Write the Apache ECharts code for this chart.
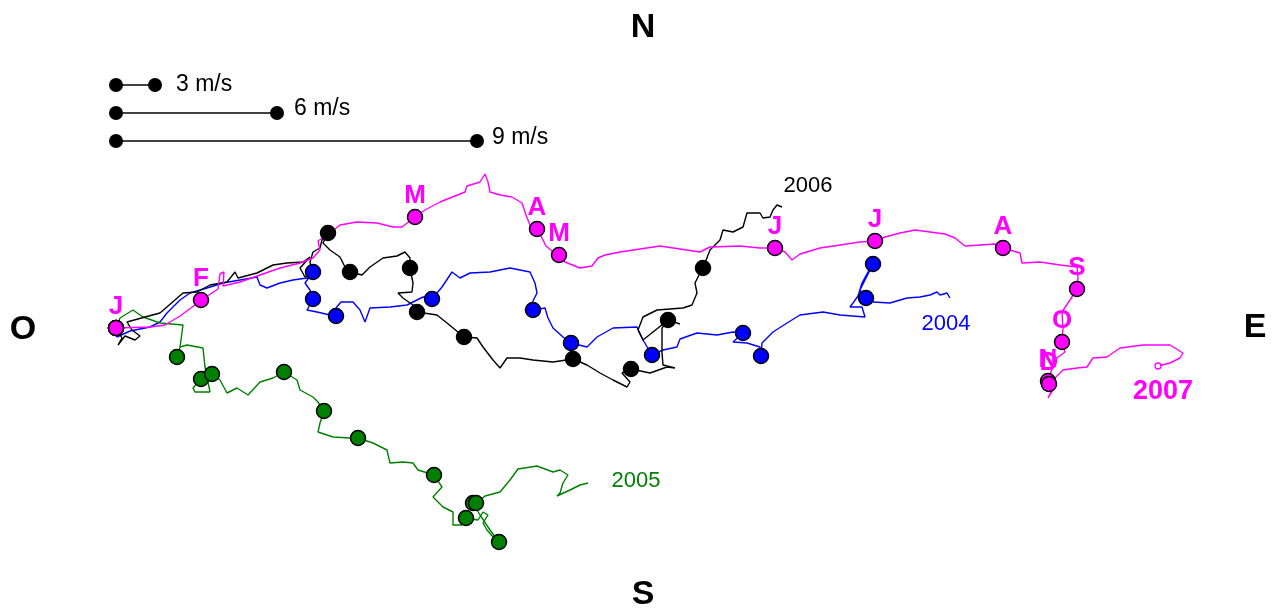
<!DOCTYPE html>
<html>
<head>
<meta charset="utf-8">
<title>Trajectoires 2004-2007</title>
<script src="https://cdn.jsdelivr.net/npm/echarts@6/dist/echarts.min.js"></script>
<style>
  html, body { margin: 0; padding: 0; background: #ffffff; }
  #chart { width: 1278px; height: 608px; }
</style>
</head>
<body>
<div id="chart"></div>
<script>
// Progressive displacement (km east, km north) from the common release point.
const monthLetters = ['J', 'F', 'M', 'A', 'M', 'J', 'J', 'A', 'S', 'O', 'N', 'D'];

const track2004 = [
  [0,0],[1,-9],[14,-3],[34,1],[44,6],[51,15],[64,28],[74,35],[91,40],[107,45],[124,48],[141,51],
  [144,43],[151,40],[164,45],[177,48],[191,50],[197,56],[189,45],[194,38],[197,29],[191,18],[201,16],
  [214,13],[220,12],[220,20],[225,26],[237,26],[244,18],[249,6],[254,20],[274,21],[291,23],[307,31],
  [316,29],[326,41],[336,56],[344,50],[354,55],[374,56],[394,60],[414,56],[419,45],[421,35],[416,25],
  [417,18],[429,20],[432,10],[437,0],[447,-9],[455,-15],[471,-19],[481,-9],[497,0],[521,1],[527,-12],
  [536,-27],[547,-22],[561,-19],[564,-11],[581,-5],[601,-7],[617,-4],[627,-5],[617,-14],[631,-15],
  [644,-19],[645,-28],[646,-15],[657,-4],[671,5],[684,13],[707,16],[724,13],[749,11],[746,21],[734,21],
  [737,25],[742,32],[746,45],[752,56],[757,64],[744,38],[750,30],[757,26],[774,25],[791,30],[804,31],
  [814,33],[821,36],[824,33],[831,35],[834,30]
];
const fixes2004 = [
  [0,0],[197,56],[197,29],[220,12],[316,29],[417,18],[455,-15],[536,-27],[627,-5],[645,-28],[757,64],[750,30]
];

const track2005 = [
  [0,0],[4,10],[17,18],[27,11],[44,5],[67,3],[64,-19],[61,-29],[64,-19],[71,-17],[87,-20],[89,-39],
  [91,-49],[94,-64],[79,-64],[77,-60],[85,-51],[96,-46],[104,-52],[111,-65],[121,-60],[132,-67],
  [144,-54],[157,-50],[168,-44],[181,-52],[184,-62],[197,-69],[202,-74],[208,-83],[204,-95],[202,-104],
  [217,-109],[234,-110],[242,-110],[257,-115],[271,-122],[274,-135],[287,-134],[297,-135],[302,-142],
  [318,-147],[326,-159],[317,-169],[327,-179],[337,-184],[337,-197],[346,-197],[350,-190],[362,-192],
  [367,-184],[372,-187],[367,-195],[371,-202],[377,-209],[383,-214],[374,-202],[364,-187],[357,-175],
  [360,-175],[369,-168],[384,-164],[394,-152],[402,-141],[421,-138],[437,-144],[444,-142],[452,-147],
  [447,-155],[444,-165],[441,-168],[454,-162],[464,-157],[472,-155]
];
const fixes2005 = [
  [0,0],[61,-29],[85,-51],[96,-46],[168,-44],[208,-83],[242,-110],[318,-147],[350,-190],[383,-214],[357,-175],[360,-175]
];

const track2006 = [
  [0,0],[6,-10],[2,-17],[9,-8],[19,-12],[24,-8],[16,-2],[11,6],[29,11],[44,15],[67,35],[81,36],[94,43],
  [111,46],[119,56],[122,50],[141,55],[157,63],[171,65],[187,66],[194,71],[184,60],[189,51],[197,54],
  [194,66],[197,76],[204,80],[206,88],[212,95],[207,85],[214,78],[224,71],[229,61],[234,56],[246,53],
  [254,61],[267,70],[281,72],[289,76],[294,70],[294,60],[297,45],[296,36],[282,35],[287,30],[297,23],
  [301,16],[321,13],[331,5],[348,-9],[361,-10],[367,-19],[377,-32],[384,-40],[391,-30],[404,-30],
  [417,-32],[437,-34],[457,-31],[471,-37],[484,-45],[497,-52],[511,-59],[514,-54],[506,-45],[515,-41],
  [534,-45],[551,-39],[559,-40],[547,-37],[546,-25],[546,0],[552,8],[564,4],[552,8],[527,-12],[522,-2],
  [527,11],[541,18],[567,20],[576,23],[581,35],[579,45],[584,55],[587,60],[594,78],[604,88],[607,98],
  [617,96],[627,101],[631,115],[644,115],[647,110],[654,111],[657,118],[661,123],[666,121]
];
const fixes2006 = [
  [0,0],[212,95],[234,56],[294,60],[301,16],[348,-9],[457,-31],[515,-41],[552,8],[587,60]
];

const track2007 = [
  [0,0],[34,1],[49,3],[64,12],[79,23],[85,28],[96,35],[102,39],[104,54],[108,56],[107,42],[124,46],
  [144,53],[164,60],[184,65],[197,70],[204,78],[202,87],[214,95],[224,103],[241,106],[261,105],[277,101],
  [286,101],[299,111],[309,118],[324,126],[339,132],[349,136],[351,142],[364,146],[369,154],[372,146],
  [374,136],[384,133],[396,131],[406,125],[410,113],[414,103],[421,99],[426,90],[430,82],[436,77],
  [443,73],[449,66],[464,60],[476,62],[482,70],[489,73],[504,76],[524,79],[544,82],[564,79],[584,76],
  [594,81],[624,82],[644,80],[659,80],[669,76],[676,68],[684,74],[704,80],[724,83],[744,86],[759,87],
  [769,91],[784,95],[799,98],[814,96],[829,94],[839,90],[849,82],[864,83],[879,84],[887,80],[904,75],
  [906,65],[924,66],[944,63],[961,61],[962,51],[961,39],[954,28],[946,16],[947,0],[946,-14],[949,-24],
  [941,-30],[937,-38],[934,-47],[932,-53],[933,-56],[935,-64],[932,-70],[937,-62],[939,-50],[947,-42],
  [961,-40],[971,-39],[977,-30],[991,-29],[1004,-20],[1027,-17],[1054,-17],[1067,-25],[1064,-30],
  [1054,-35],[1042,-38]
];
const fixes2007 = [
  [0,0],[85,28],[299,111],[421,99],[443,73],[659,80],[759,87],[887,80],[961,39],[946,-14],[932,-53],[933,-56]
];

// Scale bars: speed label and drawn length (km)
const scaleSpeeds = [3, 6, 9];
const scaleLengths = [39, 161, 361];

const yearNames = ['2004', '2005', '2006', '2007'];
const yearLabelAt = [[830, 4], [520, -153], [692, 142], [1047, -64]];

const FONT = '"Liberation Sans", Arial, Helvetica, sans-serif';
const yearColors = ['#0000ff', '#008000', '#000000', '#ff00ff'];

const tracks = [track2004, track2005, track2006, track2007];
const fixes = [fixes2004, fixes2005, fixes2006, fixes2007];

const series = [];

tracks.forEach(function (trk, i) {
  const color = yearColors[i];
  const isLast = i === 3;
  const line = {
    type: 'line',
    name: yearNames[i] + ' trajectoire',
    data: trk,
    showSymbol: false,
    symbol: 'none',
    lineStyle: { color: color, width: 1.4, opacity: 1 },
    z: 2
  };
  if (isLast) {
    line.markPoint = {
      symbol: 'circle',
      symbolSize: 6,
      label: { show: false },
      itemStyle: { color: '#ffffff', borderColor: color, borderWidth: 1.3, opacity: 1 },
      data: [{ coord: trk[trk.length - 1] }]
    };
  }
  series.push(line);

  series.push({
    type: 'scatter',
    name: yearNames[i] + ' mois',
    data: fixes[i],
    symbol: 'circle',
    symbolSize: 15,
    itemStyle: { color: color, borderColor: '#000000', borderWidth: 1.5, opacity: 1 },
    label: isLast ? {
      show: true,
      position: 'top',
      distance: 0,
      color: color,
      fontFamily: FONT,
      fontWeight: 'bold',
      fontSize: 26,
      formatter: function (p) { return monthLetters[p.dataIndex]; }
    } : { show: false },
    z: 3
  });
});

// Year tags next to the end of each track
series.push({
  type: 'scatter',
  name: 'années',
  symbolSize: 0,
  itemStyle: { opacity: 1 },
  data: yearLabelAt.map(function (c, i) {
    return {
      value: c,
      label: {
        show: true,
        position: 'inside',
        formatter: yearNames[i],
        color: yearColors[i],
        fontFamily: FONT,
        fontSize: i === 3 ? 27 : 22,
        fontWeight: i === 3 ? 'bold' : 'normal'
      }
    };
  }),
  z: 4
});

// Speed scale bars in the upper-left corner
const scaleX0 = 0;
const scaleYTop = 243;
const scaleStep = 28;
const scaleLabelGap = [14, 10, 8];
const scaleLabelRaise = [0, -4, -3];
scaleSpeeds.forEach(function (s, i) {
  const y = scaleYTop - i * scaleStep;
  series.push({
    type: 'line',
    name: s + ' m/s',
    data: [
      [scaleX0, y],
      {
        value: [scaleX0 + scaleLengths[i], y],
        label: {
          show: true,
          position: 'right',
          distance: scaleLabelGap[i],
          offset: [0, scaleLabelRaise[i]],
          formatter: s + ' m/s',
          color: '#000000',
          fontFamily: FONT,
          fontSize: 23
        }
      }
    ],
    showSymbol: true,
    symbol: 'circle',
    symbolSize: 14,
    itemStyle: { color: '#000000', opacity: 1 },
    lineStyle: { color: '#000000', width: 1.3 },
    z: 3
  });
});

const compassStyle = { font: 'bold 34px ' + FONT, fill: '#000000', align: 'center', verticalAlign: 'middle' };
function compass(text, x, y) {
  return { type: 'text', x: x, y: y, style: Object.assign({ text: text }, compassStyle) };
}

const chart = echarts.init(document.getElementById('chart'), null, { renderer: 'canvas' });
chart.setOption({
  backgroundColor: '#ffffff',
  animation: false,
  grid: { left: 0, right: 0, top: 0, bottom: 0, containLabel: false },
  xAxis: { type: 'value', min: -116, max: 1162, show: false },
  yAxis: { type: 'value', min: -280, max: 328, show: false },
  graphic: [
    compass('N', 643, 28),
    compass('S', 643, 595),
    compass('O', 23, 330),
    compass('E', 1255, 328)
  ],
  series: series
});
</script>
</body>
</html>
